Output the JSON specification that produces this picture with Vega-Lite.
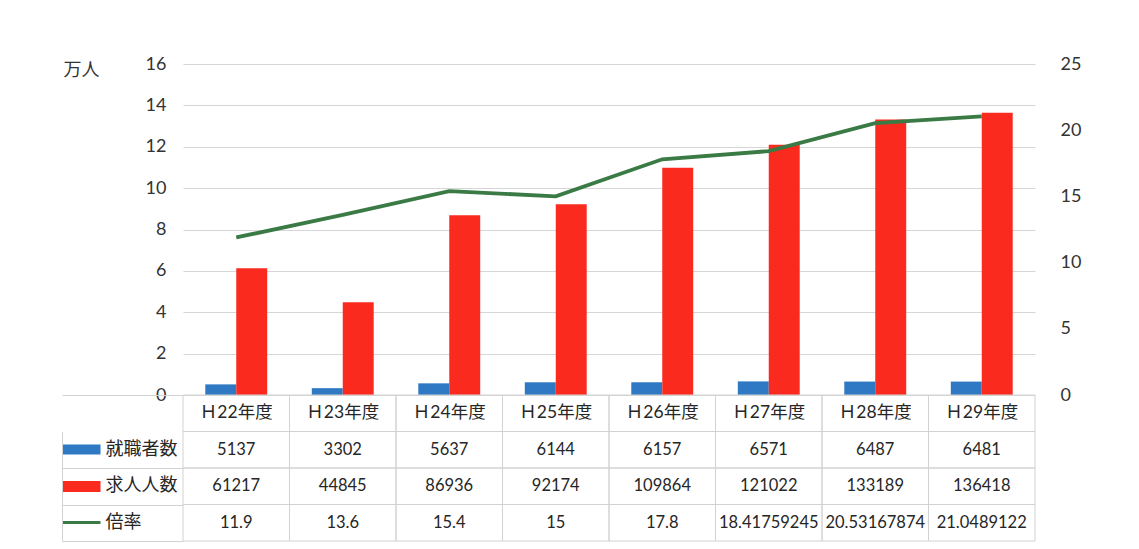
{
  "$schema": "https://vega.github.io/schema/vega-lite/v6.json",
  "width": 852,
  "height": 331,
  "autosize": {"type": "none"},
  "padding": {"left": 183, "top": 64, "right": 104, "bottom": 154},
  "background": "white",
  "config": {
    "font": "Lato, 'Noto Sans CJK JP', sans-serif",
    "view": {"stroke": null},
    "axis": {
      "labelFont": "Lato, 'Noto Sans CJK JP', sans-serif",
      "titleFont": "Lato, 'Noto Sans CJK JP', sans-serif",
      "labelColor": "#333333",
      "titleColor": "#333333"
    },
    "text": {"font": "Lato, 'Noto Sans CJK JP', sans-serif", "color": "#262626"}
  },
  "data": {
    "values": [
      {"年度": "Ｈ22年度", "就職者数": 5137, "求人人数": 61217, "倍率": 11.9},
      {"年度": "Ｈ23年度", "就職者数": 3302, "求人人数": 44845, "倍率": 13.6},
      {"年度": "Ｈ24年度", "就職者数": 5637, "求人人数": 86936, "倍率": 15.4},
      {"年度": "Ｈ25年度", "就職者数": 6144, "求人人数": 92174, "倍率": 15},
      {"年度": "Ｈ26年度", "就職者数": 6157, "求人人数": 109864, "倍率": 17.8},
      {"年度": "Ｈ27年度", "就職者数": 6571, "求人人数": 121022, "倍率": 18.41759245},
      {"年度": "Ｈ28年度", "就職者数": 6487, "求人人数": 133189, "倍率": 20.53167874},
      {"年度": "Ｈ29年度", "就職者数": 6481, "求人人数": 136418, "倍率": 21.0489122}
    ]
  },
  "encoding": {
    "x": {
      "field": "年度",
      "type": "nominal",
      "sort": null,
      "scale": {"type": "band", "paddingInner": 0, "paddingOuter": 0},
      "axis": null
    }
  },
  "layer": [
    {
      "transform": [{"fold": ["就職者数", "求人人数"], "as": ["系列", "人数"]}],
      "mark": {"type": "bar"},
      "encoding": {
        "xOffset": {
          "field": "系列",
          "type": "nominal",
          "sort": ["就職者数", "求人人数"],
          "scale": {"paddingInner": 0, "paddingOuter": 0.72}
        },
        "y": {
          "field": "人数",
          "type": "quantitative",
          "scale": {"domain": [0, 160000], "nice": false},
          "axis": {
            "orient": "left",
            "values": [0, 20000, 40000, 60000, 80000, 100000, 120000, 140000, 160000],
            "labelExpr": "datum.value / 10000",
            "labelFontSize": 18,
            "labelPadding": 17,
            "ticks": false,
            "domain": false,
            "grid": true,
            "gridColor": "#d6d6d6",
            "gridWidth": 1,
            "title": "万人",
            "titleAngle": 0,
            "titleAlign": "left",
            "titleBaseline": "middle",
            "titleFontSize": 18,
            "titleFontWeight": "normal",
            "titleX": -120,
            "titleY": 6
          }
        },
        "color": {
          "field": "系列",
          "type": "nominal",
          "scale": {"domain": ["就職者数", "求人人数"], "range": ["#2f78c4", "#fb2a1f"]},
          "legend": null
        }
      }
    },
    {
      "mark": {"type": "line", "color": "#3a7a45", "strokeWidth": 3.8},
      "encoding": {
        "y": {
          "field": "倍率",
          "type": "quantitative",
          "scale": {"domain": [0, 25], "nice": false},
          "axis": {
            "orient": "right",
            "values": [0, 5, 10, 15, 20, 25],
            "labelFontSize": 18,
            "labelPadding": 25,
            "ticks": false,
            "domain": false,
            "grid": false,
            "title": null
          }
        }
      }
    },
    {
      "transform": [{"fold": ["年度", "就職者数", "求人人数", "倍率"], "as": ["項目", "値"]}],
      "encoding": {
        "y": {
          "field": "項目",
          "type": "nominal",
          "scale": {
            "type": "band",
            "domain": ["年度", "就職者数", "求人人数", "倍率"],
            "range": [331, 477],
            "paddingInner": 0,
            "paddingOuter": 0
          },
          "axis": {
            "orient": "left",
            "offset": 121,
            "domain": false,
            "labels": false,
            "grid": false,
            "ticks": true,
            "tickBand": "extent",
            "tickSize": -121,
            "tickWidth": 1,
            "tickColor": {"condition": {"test": "datum.value === '年度'", "value": "transparent"}, "value": "#d2d2d2"},
            "title": null
          }
        }
      },
      "layer": [
        {"mark": {"type": "rect", "fill": "transparent", "stroke": "#d2d2d2", "strokeWidth": 1}},
        {
          "transform": [{"filter": "datum['項目'] === '年度'"}],
          "mark": {"type": "text", "fontSize": 17.5},
          "encoding": {"text": {"field": "値", "type": "nominal"}}
        }
      ]
    },
    {
      "transform": [{"fold": ["就職者数", "求人人数", "倍率"], "as": ["項目", "値"]}],
      "mark": {"type": "text", "fontSize": 16.5},
      "encoding": {
        "y": {
          "field": "項目",
          "type": "nominal",
          "scale": {
            "type": "band",
            "domain": ["就職者数", "求人人数", "倍率"],
            "range": [367.5, 477],
            "paddingInner": 0,
            "paddingOuter": 0
          },
          "axis": {
            "orient": "left",
            "offset": 121,
            "domain": true,
            "domainColor": "#d2d2d2",
            "grid": false,
            "ticks": true,
            "tickSize": -38,
            "tickCap": "butt",
            "tickColor": {
              "condition": [
                {"test": "datum.value === '就職者数'", "value": "#2f78c4"},
                {"test": "datum.value === '求人人数'", "value": "#fb2a1f"}
              ],
              "value": "#3a7a45"
            },
            "tickWidth": {
              "condition": [
                {"test": "datum.value === '就職者数'", "value": 10},
                {"test": "datum.value === '求人人数'", "value": 11}
              ],
              "value": 3
            },
            "labelAlign": "left",
            "labelPadding": -5,
            "labelFontSize": 18,
            "labelColor": "#262626",
            "title": null
          }
        },
        "text": {"field": "値", "type": "nominal"}
      }
    }
  ],
  "resolve": {"scale": {"y": "independent"}}
}
